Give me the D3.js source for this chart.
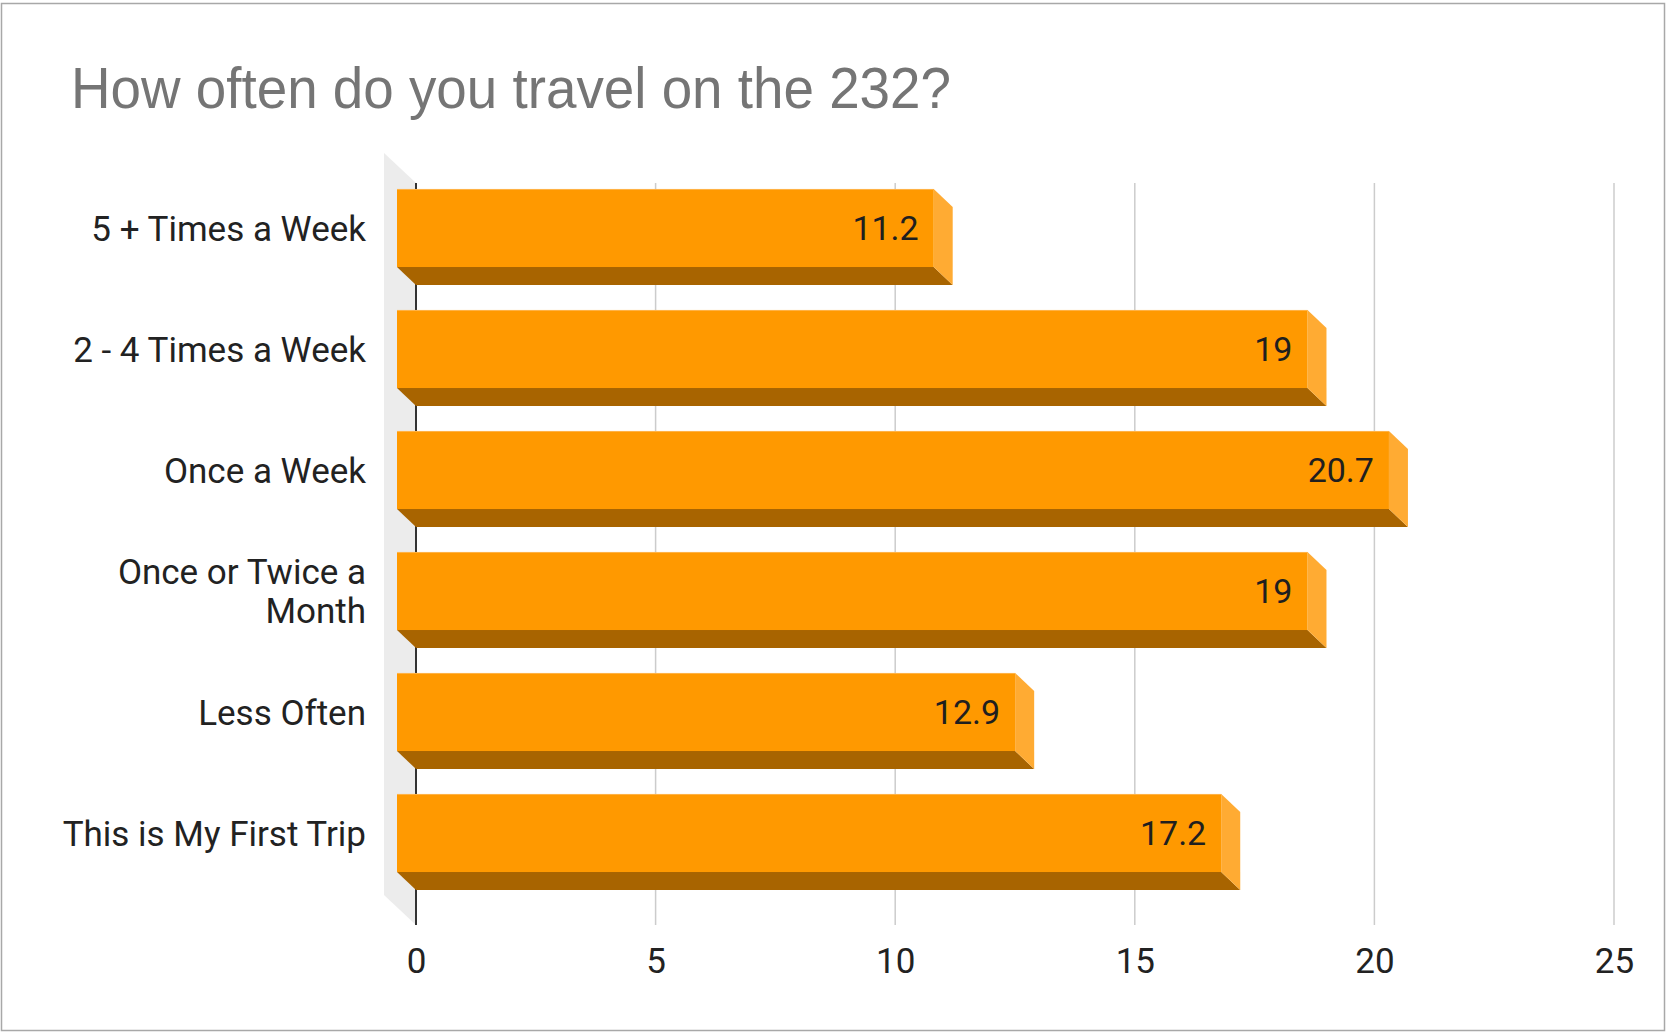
<!DOCTYPE html>
<html>
<head>
<meta charset="utf-8">
<script src="https://cdn.jsdelivr.net/npm/d3@7"></script>
<style>
  html, body { margin: 0; padding: 0; background: #fff; }
  svg { display: block; }
</style>
</head>
<body>
<svg id="chart" width="1666" height="1032"></svg>
<script>
// Survey answers and the share of respondents (%) for each
const categories = [
  "5 + Times a Week",
  "2 - 4 Times a Week",
  "Once a Week",
  "Once or Twice a Month",
  "Less Often",
  "This is My First Trip"
];
const values = [11.2, 19, 20.7, 19, 12.9, 17.2];
const tickValues = [0, 5, 10, 15, 20, 25];
const titleText = "How often do you travel on the 232?";

const W = 1666, H = 1032;
const svg = d3.select("#chart");

// frame
svg.append("rect")
  .attr("x", 1.5).attr("y", 3.5)
  .attr("width", W - 3).attr("height", H - 5)
  .attr("fill", "#fff").attr("stroke", "#a8a8a8").attr("stroke-width", 1.5);

// title
svg.append("text")
  .attr("x", 71).attr("y", 108)
  .attr("font-family", "'Liberation Sans', Arial, sans-serif")
  .attr("font-size", 57)
  .attr("fill", "#757575")
  .attr("textLength", 880)
  .attr("lengthAdjust", "spacingAndGlyphs")
  .text(titleText);

// back plane of the plot and the 3D depth offset of the front plane
const plotTop = 183, plotBottom = 925;
const depthX = -19, depthY = -18;

const x = d3.scaleLinear().domain([0, 25]).range([416, 1614]);
const y = d3.scaleBand()
  .domain(categories)
  .range([185.5, 911.5])
  .paddingInner(0.355)
  .paddingOuter(0.1775);

// left side wall
const wallDX = -32, wallDY = -30;
svg.append("polygon")
  .attr("points", [
    [x(0) + wallDX, plotTop + wallDY],
    [x(0), plotTop],
    [x(0), plotBottom],
    [x(0) + wallDX, plotBottom + wallDY]
  ].map(p => p.join(",")).join(" "))
  .attr("fill", "#ececec");

// vertical gridlines
svg.append("g").selectAll("line")
  .data(tickValues.filter(d => d !== 0))
  .join("line")
  .attr("x1", d => x(d)).attr("x2", d => x(d))
  .attr("y1", plotTop).attr("y2", plotBottom)
  .attr("stroke", "#cccccc").attr("stroke-width", 1.5);

// zero baseline
svg.append("line")
  .attr("x1", x(0)).attr("x2", x(0))
  .attr("y1", plotTop).attr("y2", plotBottom)
  .attr("stroke", "#333333").attr("stroke-width", 2);

// x axis tick labels (axis generator, line and ticks hidden)
const xAxis = d3.axisBottom(x).tickValues(tickValues).tickSize(0).tickPadding(0);
const gx = svg.append("g")
  .attr("transform", `translate(0, 948)`)
  .call(xAxis);
gx.select(".domain").remove();
gx.selectAll("text")
  .attr("font-family", "Roboto, sans-serif")
  .attr("font-size", 35)
  .attr("fill", "#222")
  .attr("dy", "0.71em");

// 3D bars
const data = categories.map((c, i) => ({ c, v: values[i] }));
const bars = svg.append("g").selectAll("g").data(data).join("g");

const pts = arr => arr.map(p => p.join(",")).join(" ");

bars.each(function(d) {
  const g = d3.select(this);
  const bl = x(0), br = x(d.v);
  const bt = y(d.c), bb = y(d.c) + y.bandwidth();
  const fl = bl + depthX, fr = br + depthX;
  const ft = bt + depthY, fb = bb + depthY;

  // underside
  g.append("polygon")
    .attr("points", pts([[fl, fb], [fr, fb], [br, bb], [bl, bb]]))
    .attr("fill", "#a86400");
  // right side
  g.append("polygon")
    .attr("points", pts([[fr, ft], [br, bt], [br, bb], [fr, fb]]))
    .attr("fill", "#ffab33");
  // front face
  g.append("rect")
    .attr("x", fl).attr("y", ft)
    .attr("width", fr - fl).attr("height", fb - ft)
    .attr("fill", "#ff9900");
  g.append("line")
    .attr("x1", fl).attr("x2", fr)
    .attr("y1", ft + 0.5).attr("y2", ft + 0.5)
    .attr("stroke", "#ffb347").attr("stroke-width", 1);

  // value label
  g.append("text")
    .attr("x", fr - 15)
    .attr("y", (ft + fb) / 2)
    .attr("dy", "0.36em")
    .attr("text-anchor", "end")
    .attr("font-family", "Roboto, sans-serif")
    .attr("font-size", 34)
    .attr("fill", "#1f1f1f")
    .text(d.v);
});

// category labels, wrapped to fit the label column
const labelRight = 366;
const wrapped = {
  "Once or Twice a Month": ["Once or Twice a", "Month"]
};
const lineH = 39;
svg.append("g").selectAll("text")
  .data(categories)
  .join("text")
  .attr("text-anchor", "end")
  .attr("font-family", "Roboto, sans-serif")
  .attr("font-size", 35)
  .attr("fill", "#222")
  .each(function(c) {
    const lines = wrapped[c] || [c];
    const cy = y(c) + depthY + y.bandwidth() / 2;
    const t = d3.select(this);
    lines.forEach((ln, i) => {
      t.append("tspan")
        .attr("x", labelRight)
        .attr("y", cy + (i - (lines.length - 1) / 2) * lineH)
        .attr("dy", "0.36em")
        .text(ln);
    });
  });
</script>
</body>
</html>
